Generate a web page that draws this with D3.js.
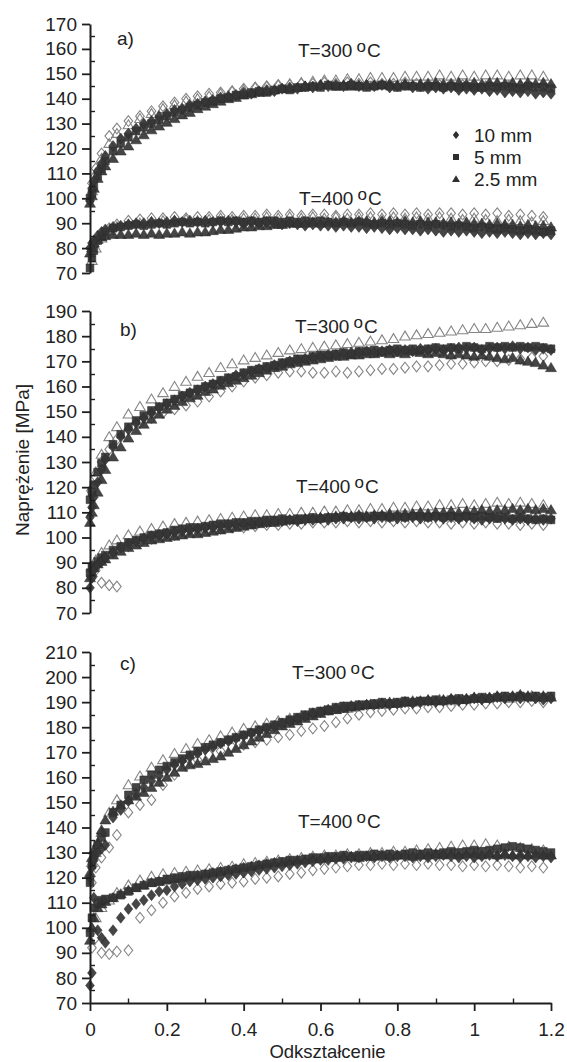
<!DOCTYPE html>
<html>
<head>
<meta charset="utf-8">
<script src="https://cdn.jsdelivr.net/npm/d3@7"></script>
<style>
  html, body { margin: 0; padding: 0; background: #fff; }
  svg { display: block; }
</style>
</head>
<body>
<svg id="chart" width="567" height="1062"></svg>
<script>
// ---------- data ----------
// strain sampling of the filled series
const strain = [0, 0.005, 0.01, 0.02, 0.03, 0.04, 0.06, 0.08, 0.10, 0.12, 0.14, 0.16, 0.18, 0.20, 0.22, 0.24, 0.26, 0.28, 0.30, 0.32, 0.34, 0.36, 0.38, 0.40, 0.42, 0.44, 0.46, 0.48, 0.50, 0.52, 0.54, 0.56, 0.58, 0.60, 0.62, 0.64, 0.66, 0.68, 0.70, 0.72, 0.74, 0.76, 0.78, 0.80, 0.82, 0.84, 0.86, 0.88, 0.90, 0.92, 0.94, 0.96, 0.98, 1.00, 1.02, 1.04, 1.06, 1.08, 1.10, 1.12, 1.14, 1.16, 1.18, 1.20];
// strain sampling of the repeat (open-marker) runs
const strainOpen = [0.005, 0.015, 0.03, 0.05, 0.07, 0.10, 0.13, 0.16, 0.19, 0.22, 0.25, 0.28, 0.31, 0.34, 0.37, 0.40, 0.43, 0.46, 0.49, 0.52, 0.55, 0.58, 0.61, 0.64, 0.67, 0.70, 0.73, 0.76, 0.79, 0.82, 0.85, 0.88, 0.91, 0.94, 0.97, 1.00, 1.03, 1.06, 1.09, 1.12, 1.15, 1.18];

const sizeLabels = ["10 mm", "5 mm", "2.5 mm"];
const panelLabels = ["a)", "b)", "c)"];
const tempLabels = ["300", "400"];
const xTicks = [0, 0.2, 0.4, 0.6, 0.8, 1, 1.2];
const xTickLabels = ["0", "0.2", "0.4", "0.6", "0.8", "1", "1.2"];
const xMinorTicks = [0.1, 0.3, 0.5, 0.7, 0.9, 1.1];
const yTicksA = [70, 80, 90, 100, 110, 120, 130, 140, 150, 160, 170];
const yTicksB = [70, 80, 90, 100, 110, 120, 130, 140, 150, 160, 170, 180, 190];
const yTicksC = [70, 80, 90, 100, 110, 120, 130, 140, 150, 160, 170, 180, 190, 200, 210];
const xTitle = "Odkształcenie";
const yTitle = "Naprężenie [MPa]";

// panel a, T = 300 °C  [MPa]
const a300_10mm = [99, 104, 107, 111, 114, 117, 121, 124, 126, 128, 130, 131, 133, 134, 135.5, 136, 137.5, 138, 139, 139.5, 140.5, 141, 141.5, 142.5, 142, 143, 143.5, 143, 144, 144.5, 144, 145, 144.5, 145.5, 145, 145.5, 145, 146, 145, 145.5, 145, 145.5, 144.5, 145, 145.5, 144.5, 145, 144, 144.5, 144, 144.5, 143.5, 144, 143.5, 144, 143, 143.5, 142.5, 143, 142.5, 143, 142, 142.5, 142];
const a300_5mm = [100, 102, 105, 109, 112, 115, 119, 122, 124.5, 127, 128.5, 130, 131.5, 133, 134.5, 135.5, 136.5, 137.5, 138.5, 139, 140, 140.5, 141.5, 141.5, 142.5, 143, 142.5, 143.5, 144, 143.5, 144.5, 144.5, 145, 144.5, 145.5, 145, 145, 145.5, 145, 144.5, 145, 145.5, 145, 144.5, 145, 145, 144.5, 145, 145, 144.5, 145, 144.5, 145, 144.5, 144.5, 145, 144.5, 145, 144.5, 144, 145, 144.5, 144.5, 144];
const a300_25mm = [98, 101, 104, 108, 111, 113, 116, 119, 121, 123.5, 125.5, 127.5, 129, 130.5, 132, 133.5, 134.5, 136, 137, 138, 139, 140, 140.5, 141.5, 142, 142.5, 143, 143.5, 144, 144, 144.5, 145, 145, 145.5, 145.5, 145, 145.5, 145, 145.5, 145.5, 145.5, 145.5, 146, 145.5, 146, 145.5, 146, 146, 146.5, 146, 146, 146.5, 146, 146.5, 146, 146.5, 146.5, 146, 146.5, 146, 146.5, 146, 146.5, 146];
const a300_openDia = [106, 112, 118, 125, 128, 131, 133, 135, 137, 138.5, 140, 141, 142, 142.5, 143, 144, 144.5, 145, 145.5, 145.5, 146, 146, 146.5, 146, 146.5, 146, 146.5, 146, 146, 146.5, 146, 146, 145.5, 146, 145.5, 145.5, 145, 145.5, 145, 145, 144.5, 145];
const a300_openTri = [103, 110, 116, 122, 126, 129.5, 132, 134, 136, 137.5, 139, 140, 141, 142, 143, 143.5, 144.5, 145, 145.5, 146, 146.5, 147, 147.5, 147.5, 148, 148, 148.5, 148.5, 148.5, 149, 149, 149, 149.5, 149, 149.5, 149, 149.5, 149.5, 149, 149.5, 149.5, 149];

// panel a, T = 400 °C
const a400_10mm = [80, 82, 83, 85, 86.5, 87.5, 88.5, 89, 89.5, 90, 90, 90.5, 90, 90.5, 91, 90.5, 91, 90.5, 91, 90.5, 90.5, 91, 90.5, 90, 90.5, 90, 90.5, 90, 89.5, 90, 89.5, 89, 89.5, 89, 89, 88.5, 89, 88.5, 88.5, 88, 88.5, 88, 87.5, 88, 87.5, 87.5, 87, 87.5, 87, 86.5, 87, 86.5, 87, 86.5, 86, 86.5, 86, 86.5, 86, 85.5, 86, 85.5, 86, 85.5];
const a400_5mm = [72, 76, 79, 83, 85, 86.5, 88, 88.5, 89, 89.5, 89, 89.5, 90, 89.5, 90, 90.5, 90, 90.5, 90, 90.5, 91, 90.5, 91, 90.5, 91, 90.5, 91, 91, 90.5, 91, 90.5, 91, 90.5, 91, 90.5, 90, 90.5, 90, 90.5, 90, 89.5, 90, 89.5, 90, 89.5, 89, 89.5, 89, 89.5, 89, 88.5, 89, 88.5, 88, 88.5, 88, 87.5, 88, 87.5, 87, 87.5, 87, 86.5, 87];
const a400_25mm = [78, 80, 82, 83.5, 84.5, 85, 85.5, 85.5, 85.5, 86, 85.5, 86, 85.5, 86, 86, 86.5, 86, 86.5, 86.5, 87, 87.5, 87.5, 88, 88.5, 88.5, 89, 89, 89.5, 89.5, 90, 90, 90, 90.5, 90, 90.5, 90.5, 91, 90.5, 91, 91, 90.5, 91, 91, 90.5, 91, 90.5, 91, 90.5, 90.5, 90, 90.5, 90, 90.5, 90, 90, 89.5, 90, 89.5, 89.5, 89, 89.5, 89, 89, 88.5];
const a400_openDia = [78, 82, 85, 88, 89.5, 91, 91.5, 92, 92, 92.5, 92, 92.5, 92.5, 93, 92.5, 93, 93, 93.5, 93, 93.5, 93, 93.5, 93.5, 93, 93.5, 93.5, 94, 93.5, 94, 93.5, 94, 93.5, 94, 94, 93.5, 94, 93.5, 94, 93, 93.5, 93, 92.5];
const a400_openTri = [75, 80, 84, 87, 88.5, 89.5, 90, 90.5, 91, 91, 91.5, 91, 91.5, 92, 91.5, 92, 92, 92.5, 92, 92.5, 92, 92.5, 92, 92.5, 92, 92.5, 92.5, 92, 92.5, 92, 92.5, 92, 92.5, 92, 91.5, 92, 91.5, 91, 91.5, 91, 90.5, 91];

// panel b, T = 300 °C
const b300_10mm = [108, 112, 116, 122, 127, 131, 136, 140, 143, 145.5, 147.5, 149.5, 151.5, 153, 154.5, 156, 157.5, 158.5, 160, 161, 162, 163, 164.5, 165, 166, 167, 167.5, 168.5, 169, 170, 170.5, 171, 171.5, 172, 172.5, 172.5, 173, 173.5, 173.5, 174, 173.5, 174, 174.5, 174, 174.5, 174, 175, 174.5, 175, 174.5, 175, 175.5, 175, 175.5, 174.5, 175, 175.5, 175, 176, 175, 175.5, 174.5, 175, 174.5];
const b300_5mm = [115, 118, 121, 126, 129.5, 132, 137, 141, 144, 146.5, 148.5, 150.5, 152, 153.5, 155, 156.5, 157.5, 159, 160, 161, 162.5, 163.5, 164, 165.5, 166.5, 167, 168, 168.5, 169.5, 170, 171, 171, 172, 172.5, 172.5, 173, 173.5, 173, 174, 174, 174.5, 174, 174.5, 175, 174.5, 175, 174.5, 175, 175.5, 175, 175.5, 175, 176, 175.5, 175, 176, 175.5, 176, 175.5, 176, 175.5, 176, 175.5, 175];
const b300_25mm = [106, 110, 113, 118, 123, 127, 132, 136, 139.5, 142.5, 145, 147, 149, 151, 152.5, 154, 155.5, 156.5, 158, 159, 160.5, 161.5, 162.5, 163.5, 164.5, 165.5, 166.5, 167.5, 168, 169, 169.5, 170, 170.5, 171, 171.5, 172, 172, 172.5, 172.5, 173, 173, 173.5, 173, 173.5, 173, 174, 173.5, 173, 173.5, 173, 172.5, 173, 172.5, 172, 172.5, 172, 171.5, 171, 171.5, 170.5, 170, 169.5, 168.5, 167.5];
const b300_openDia = [118, 124, 130, 135, 139, 143, 145.5, 147.5, 149.5, 151, 152.5, 154, 156, 158, 160, 162, 163.5, 164.5, 165.5, 166, 166, 165.5, 165.5, 166, 165.5, 166, 166.5, 167, 167, 167.5, 168, 168, 168.5, 169, 169, 169.5, 170, 170, 170.5, 171, 171.5, 172];
const b300_openTri = [120, 126, 133, 140, 144, 149, 152, 155, 157.5, 160, 162, 164, 165.5, 167.5, 169, 170.5, 171.5, 172.5, 173.5, 174.5, 175, 175.5, 176, 176.5, 177, 177.5, 178, 178.5, 179, 180, 180.5, 181, 181.5, 182, 182.5, 183, 183, 183.5, 184, 184.5, 185, 185.5];

// panel b, T = 400 °C
const b400_10mm = [80, 84, 87, 89, 90.5, 92, 94, 96, 97.5, 98.5, 99.5, 100.5, 101, 101.5, 102, 102.5, 103, 103.5, 104, 104, 104.5, 105, 105, 105.5, 105.5, 106, 106, 106.5, 106.5, 107, 106.5, 107, 107, 107.5, 107, 107.5, 107.5, 108, 107.5, 108, 107.5, 108, 108, 107.5, 108, 108, 107.5, 108, 108, 107.5, 108, 107.5, 108, 107.5, 107, 107.5, 108, 107.5, 107, 107.5, 107, 107.5, 107, 107.5];
const b400_5mm = [86, 88, 89, 90.5, 92, 93, 95, 96.5, 98, 99, 100, 101, 101.5, 102, 103, 103.5, 104, 104, 104.5, 105, 105.5, 105.5, 106, 106, 106.5, 106.5, 107, 107, 107.5, 107, 107.5, 107.5, 108, 107.5, 108, 108, 108.5, 108, 108.5, 108, 108.5, 108.5, 108, 108.5, 108, 108.5, 108.5, 108, 108.5, 108, 108.5, 108, 108.5, 108, 108.5, 108, 107.5, 108, 107.5, 108, 107.5, 107, 107.5, 107];
const b400_25mm = [84, 86, 88, 89.5, 90.5, 91.5, 93, 94.5, 96, 97, 98, 99, 99.5, 100, 100.5, 101, 101.5, 101.5, 102, 102.5, 103, 103.5, 104, 104.5, 105, 105.5, 106, 106, 106.5, 107, 107, 107.5, 107.5, 108, 108, 108.5, 108.5, 108.5, 109, 108.5, 109, 109, 109.5, 109, 109.5, 109.5, 110, 109.5, 110, 110, 110.5, 110, 110.5, 110.5, 111, 110.5, 111, 111, 111.5, 111, 111.5, 111, 111.5, 111];
const b400_openDia = [84, 87, 82, 81, 80.5, 96.5, 98, 99.5, 100.5, 101, 102, 102.5, 103, 103.5, 104, 104, 104.5, 105, 105, 105.5, 105.5, 106, 106, 106, 106.5, 106, 106.5, 106, 106.5, 106, 106.5, 106, 106, 105.5, 106, 105.5, 106, 105.5, 105.5, 105, 105.5, 105];
const b400_openTri = [88, 91, 94, 97, 99, 101, 102.5, 103.5, 104.5, 105.5, 106, 106.5, 107, 107.5, 108, 108.5, 109, 109, 109.5, 109.5, 110, 110, 110.5, 110.5, 111, 111, 111.5, 111.5, 112, 112, 112.5, 112.5, 113, 113, 113.5, 113, 113.5, 114, 113.5, 114, 113.5, 113];

// panel c, T = 300 °C
const c300_10mm = [120, 124, 127, 130, 131.5, 133, 144, 147, 150.5, 153.5, 156, 158.5, 160.5, 163, 165, 166.5, 168, 169.5, 171, 172, 173.5, 174.5, 175.5, 176.5, 177.5, 178.5, 179.5, 180.5, 181.5, 182.5, 183.5, 184.5, 185.5, 186, 187, 187.5, 188, 188.5, 188.5, 189, 189, 189.5, 189, 189.5, 190, 189.5, 190, 190.5, 190, 190.5, 191, 190.5, 191, 191.5, 191, 191.5, 192, 191.5, 192, 191.5, 192, 191.5, 191, 191.5];
const c300_5mm = [118, 125, 129, 133, 136, 138, 146, 149, 153, 156, 159, 161, 163, 164.5, 166, 167.5, 169, 170.5, 172, 173, 174, 175, 176, 177, 178, 179, 180, 181, 182, 183, 184, 185, 186, 186.5, 187, 188, 188.5, 188.5, 189, 189, 189.5, 190, 189.5, 190, 190.5, 190, 190.5, 190.5, 191, 190.5, 191, 191.5, 191, 191.5, 192, 191.5, 192, 192.5, 192, 192.5, 192, 192.5, 192, 192.5];
const c300_25mm = [122, 128, 131, 134, 139, 143, 146.5, 149, 151, 152.5, 154, 156, 158, 160, 162, 164, 165, 165.5, 166.5, 167.5, 168.5, 170, 171.5, 173, 174.5, 176, 177.5, 179, 180.5, 181.5, 182.5, 183.5, 184.5, 185.5, 186.5, 187, 187.5, 188, 188.5, 189, 189, 189.5, 190, 189.5, 190, 190.5, 190.5, 191, 190.5, 191, 191.5, 191, 191.5, 192, 191.5, 192, 192.5, 192, 192.5, 193, 192.5, 192, 192.5, 192];
const c300_openDia = [118, 124, 128, 132, 137, 146, 149, 151, 157, 161, 164.5, 167, 169, 170.5, 172, 173, 174, 175, 176, 177, 178.5, 179.5, 180.5, 182, 183.5, 185, 186, 186.5, 187, 187.5, 187.5, 188, 188, 188.5, 189, 189, 189.5, 189.5, 190, 190, 190.5, 190];
const c300_openTri = [126, 130, 138, 146, 151, 157, 160.5, 164, 167, 169.5, 171.5, 173.5, 175, 176.5, 178, 179.5, 180.5, 181.5, 182.5, 183.5, 184.5, 185.5, 186.5, 187, 187.5, 188.5, 189, 189, 189.5, 190, 190, 190.5, 191, 190.5, 191, 191.5, 191.5, 192, 191.5, 192, 192.5, 192];

// panel c, T = 400 °C
const c400_10mm = [77, 82, 112, 99, 96, 94, 99, 104, 107.5, 109.5, 111, 113, 114.5, 115, 116.5, 117.5, 118.5, 119, 119.5, 120, 120.5, 121, 121.5, 122, 122.5, 123, 123.5, 124, 124.5, 125, 125.5, 126, 126.5, 127, 127, 127.5, 127.5, 128, 128, 128.5, 128, 128.5, 128, 128.5, 128.5, 128, 128.5, 128, 128.5, 129, 128.5, 128, 128.5, 128, 128.5, 129, 128.5, 129, 128.5, 128, 128.5, 128, 128.5, 128];
const c400_5mm = [98, 104, 108, 110, 111, 111.5, 112, 113, 114.5, 116, 117, 118, 118.5, 119.5, 120, 120.5, 121, 121, 121.5, 122, 122.5, 123, 123.5, 124, 124.5, 125, 125.5, 126, 126.5, 127, 127, 127.5, 128, 128, 128.5, 128.5, 129, 128.5, 129, 129, 129.5, 129, 129.5, 129, 129.5, 130, 129.5, 130, 129.5, 130, 130.5, 130, 130.5, 131, 130.5, 131, 131.5, 132, 132.5, 132, 131.5, 131, 130.5, 130];
const c400_25mm = [95, 100, 104, 108, 109.5, 110.5, 112, 113.5, 115, 116, 117, 118, 118.5, 119, 119.5, 120, 120.5, 121, 121.5, 122, 122.5, 123, 123.5, 124, 124.5, 125, 125.5, 126, 126, 126.5, 127, 127, 127.5, 127.5, 128, 128, 128.5, 128.5, 128, 128.5, 128.5, 129, 128.5, 129, 129, 128.5, 129, 129, 129.5, 129, 129.5, 129, 129.5, 129.5, 129, 129.5, 129, 129.5, 129, 129.5, 129, 129.5, 129, 129];
const c400_openDia = [92, 96, 90, 89.5, 90.5, 91, 104, 107, 110, 112.5, 114, 115.5, 116.5, 117.5, 118, 118.5, 119.5, 120, 120.5, 121.5, 122, 123, 123.5, 124, 124.5, 125, 125, 125.5, 125, 125.5, 125, 125.5, 125, 125, 124.5, 125, 124.5, 125, 124.5, 124, 124.5, 124];
const c400_openTri = [100, 104, 108, 111, 114, 117, 119, 120.5, 121.5, 122, 122.5, 123, 123.5, 124, 124.5, 125.5, 126, 126.5, 127, 127.5, 128, 128.5, 129, 129, 129.5, 129.5, 130, 130, 130.5, 130.5, 131, 131.5, 132, 132.5, 133, 133, 133.5, 133, 132.5, 132, 131.5, 131];

// ---------- drawing ----------
const FONT = "'Liberation Sans', Arial, Helvetica, sans-serif";
const INK = "#1e1e1e";
const svg = d3.select("#chart");
svg.append("rect").attr("width", 567).attr("height", 1062).attr("fill", "#fff");

const x = d3.scaleLinear().domain([0, 1.2]).range([90, 551]);

// marker outlines (centred on the data point)
const shapes = {
  diamond: (r) => `M0,${-r * 1.25}L${r},0L0,${r * 1.25}L${-r},0Z`,
  square: (r) => `M${-r},${-r}H${r}V${r}H${-r}Z`,
  triangle: (r) => `M0,${-r * 1.05}L${r * 1.1},${r * 0.8}L${-r * 1.1},${r * 0.8}Z`
};

const panels = [
  { label: panelLabels[0], ticks: yTicksA, range: [273, 24], labelXY: [117, 45],
    curves: [
      { temp: tempLabels[0], textXY: [298, 57], s10: a300_10mm, s5: a300_5mm, s25: a300_25mm, oDia: a300_openDia, oTri: a300_openTri },
      { temp: tempLabels[1], textXY: [299, 205], s10: a400_10mm, s5: a400_5mm, s25: a400_25mm, oDia: a400_openDia, oTri: a400_openTri }
    ] },
  { label: panelLabels[1], ticks: yTicksB, range: [613, 311], labelXY: [120, 336],
    curves: [
      { temp: tempLabels[0], textXY: [295, 333], s10: b300_10mm, s5: b300_5mm, s25: b300_25mm, oDia: b300_openDia, oTri: b300_openTri },
      { temp: tempLabels[1], textXY: [296, 493], s10: b400_10mm, s5: b400_5mm, s25: b400_25mm, oDia: b400_openDia, oTri: b400_openTri }
    ] },
  { label: panelLabels[2], ticks: yTicksC, range: [1003, 652], labelXY: [120, 670],
    curves: [
      { temp: tempLabels[0], textXY: [292, 679], s10: c300_10mm, s5: c300_5mm, s25: c300_25mm, oDia: c300_openDia, oTri: c300_openTri },
      { temp: tempLabels[1], textXY: [298, 828], s10: c400_10mm, s5: c400_5mm, s25: c400_25mm, oDia: c400_openDia, oTri: c400_openTri }
    ] }
];

function drawSeries(g, xs, vs, y, path, filled) {
  g.append("g").selectAll("path")
    .data(vs.map((v, i) => [xs[i], v]))
    .join("path")
    .attr("d", path)
    .attr("transform", d => `translate(${x(d[0]).toFixed(2)},${y(d[1]).toFixed(2)})`)
    .attr("fill", filled ? "#353535" : "none")
    .attr("fill-opacity", filled ? 0.92 : null)
    .attr("stroke", filled ? "#2a2a2a" : "#858585")
    .attr("stroke-width", filled ? 0.5 : 1.1);
}

panels.forEach((p) => {
  const y = d3.scaleLinear().domain(d3.extent(p.ticks)).range(p.range);
  const g = svg.append("g");

  // data: repeat runs (open) underneath, main runs (filled) on top
  p.curves.forEach((c) => {
    drawSeries(g, strainOpen, c.oDia, y, shapes.diamond(4.3), false);
    drawSeries(g, strainOpen, c.oTri, y, shapes.triangle(4.8), false);
  });
  p.curves.forEach((c) => {
    drawSeries(g, strain, c.s25, y, shapes.triangle(5), true);
    drawSeries(g, strain, c.s5, y, shapes.square(3.9), true);
    drawSeries(g, strain, c.s10, y, shapes.diamond(4.4), true);
  });

  // y axis: labelled majors outside, minors inside
  const ay = g.append("g").attr("transform", "translate(90,0)")
    .call(d3.axisLeft(y).tickValues(p.ticks).tickFormat(d3.format("d"))
      .tickSize(8).tickSizeOuter(0).tickPadding(5));
  ay.attr("font-size", 19).attr("font-family", FONT);
  ay.select(".domain").attr("stroke", INK).attr("stroke-width", 2);
  ay.selectAll(".tick line").attr("stroke", INK).attr("stroke-width", 1.8);
  ay.selectAll(".tick text").attr("fill", "#222");
  const minors = d3.range(p.ticks[0] + 5, p.ticks[p.ticks.length - 1], 10);
  g.append("g").selectAll("line").data(minors).join("line")
    .attr("x1", 90).attr("x2", 95)
    .attr("y1", d => Math.round(y(d)) + 0.5).attr("y2", d => Math.round(y(d)) + 0.5)
    .attr("stroke", INK).attr("stroke-width", 1.4);

  // panel tag
  g.append("text").attr("x", p.labelXY[0]).attr("y", p.labelXY[1])
    .attr("font-family", FONT).attr("font-size", 19).attr("fill", "#222").text(p.label);

  // temperature captions
  p.curves.forEach((c) => {
    const t = g.append("text").attr("x", c.textXY[0]).attr("y", c.textXY[1])
      .attr("font-family", FONT).attr("font-size", 19).attr("fill", "#222");
    t.append("tspan").text(`T=${c.temp}`);
    t.append("tspan").attr("font-size", 17).attr("dx", 4).attr("dy", -5).text("o");
    t.append("tspan").attr("dx", 1).attr("dy", 5).text("C");
  });
});

// shared x axis under the bottom panel
const ax = svg.append("g").attr("transform", "translate(0,1003)")
  .call(d3.axisBottom(x).tickValues(xTicks).tickFormat((d, i) => xTickLabels[i])
    .tickSize(8).tickSizeOuter(0).tickPadding(12));
ax.attr("font-size", 19).attr("font-family", FONT);
ax.select(".domain").attr("stroke", INK).attr("stroke-width", 2);
ax.selectAll(".tick line").attr("stroke", INK).attr("stroke-width", 1.8);
ax.selectAll(".tick text").attr("fill", "#222");
svg.append("g").selectAll("line").data(xMinorTicks).join("line")
  .attr("x1", d => Math.round(x(d)) + 0.5).attr("x2", d => Math.round(x(d)) + 0.5)
  .attr("y1", 1003).attr("y2", 998.5)
  .attr("stroke", INK).attr("stroke-width", 1.4);

// axis titles
svg.append("text").attr("x", 327.5).attr("y", 1057.5).attr("text-anchor", "middle")
  .attr("font-family", FONT).attr("font-size", 18.5).attr("fill", "#222").text(xTitle);
svg.append("text").attr("transform", "translate(29,460) rotate(-90)").attr("text-anchor", "middle")
  .attr("font-family", FONT).attr("font-size", 19).attr("fill", "#222").text(yTitle);

// legend (specimen size)
const legendShapes = [shapes.diamond(3.2), shapes.square(3), shapes.triangle(3.6)];
const legend = svg.append("g");
sizeLabels.forEach((lab, i) => {
  const cy = 135 + i * 22;
  legend.append("path").attr("d", legendShapes[i])
    .attr("transform", `translate(456,${cy})`).attr("fill", "#2e2e2e");
  legend.append("text").attr("x", 474).attr("y", cy + 6.5)
    .attr("font-family", FONT).attr("font-size", 19).attr("fill", "#222").text(lab);
});
</script>
</body>
</html>
